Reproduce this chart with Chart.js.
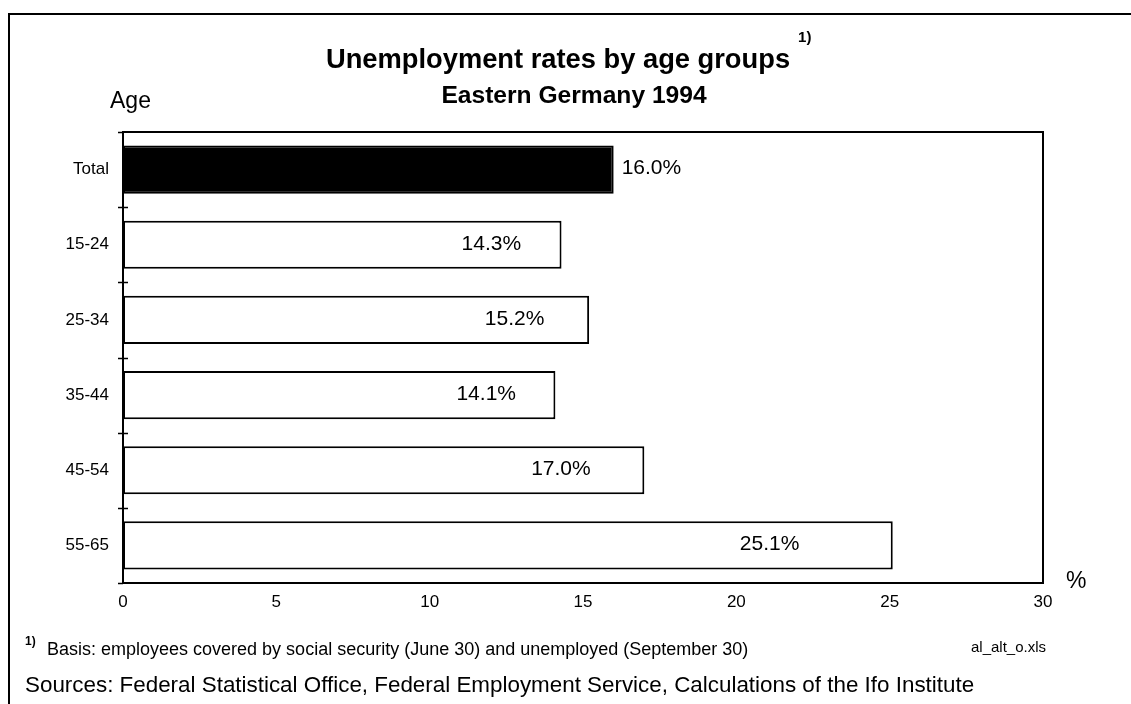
<!DOCTYPE html>
<html>
<head>
<meta charset="utf-8">
<title>Unemployment rates by age groups</title>
<script src="https://cdn.jsdelivr.net/npm/chart.js@4.4.1/dist/chart.umd.min.js"></script>
<style>
    body { margin: 0; background: #fff; }
    #wrap { width: 1131px; height: 704px; }
</style>
</head>
<body>
<div id="wrap"><canvas id="chartCanvas" width="1131" height="704"></canvas></div>
<script>
const ageGroups = ['Total', '15-24', '25-34', '35-44', '45-54', '55-65'];
const rates = [16.0, 14.3, 15.2, 14.1, 17.0, 25.1];
const xTicks = [0, 5, 10, 15, 20, 25, 30];

const FONT = '"Liberation Sans", Arial, Helvetica, sans-serif';

function label(ctx, str, x, y, font, align) {
    ctx.save();
    ctx.font = font;
    ctx.fillStyle = '#000';
    ctx.textAlign = align || 'left';
    ctx.textBaseline = 'alphabetic';
    ctx.fillText(str, x, y);
    const w = ctx.measureText(str).width;
    ctx.restore();
    return w;
}

const decor = {
    id: 'decor',
    beforeDraw(chart) {
        const ctx = chart.ctx;
        ctx.save();
        ctx.fillStyle = '#fff';
        ctx.fillRect(0, 0, chart.width, chart.height);
        // page frame (top and left edges only)
        ctx.strokeStyle = '#000';
        ctx.lineWidth = 2;
        ctx.beginPath();
        ctx.moveTo(chart.width, 14);
        ctx.lineTo(9, 14);
        ctx.lineTo(9, chart.height);
        ctx.stroke();
        ctx.restore();
    },
    afterDraw(chart) {
        const ctx = chart.ctx;
        const area = chart.chartArea;
        const yScale = chart.scales.y;
        const xScale = chart.scales.x;

        // top + right edge of the plot box
        ctx.save();
        ctx.strokeStyle = '#000';
        ctx.lineWidth = 2;
        ctx.beginPath();
        ctx.moveTo(area.left, area.top);
        ctx.lineTo(area.right, area.top);
        ctx.lineTo(area.right, area.bottom);
        ctx.stroke();

        // tick marks crossing the age axis between the groups
        const band = (yScale.bottom - yScale.top) / ageGroups.length;
        ctx.lineWidth = 1.5;
        ctx.beginPath();
        for (let i = 0; i <= ageGroups.length; i++) {
            const y = Math.round(yScale.top + i * band) + 0.5;
            ctx.moveTo(area.left - 5, y);
            ctx.lineTo(area.left + (i === 0 || i === ageGroups.length ? 0 : 5), y);
        }
        ctx.stroke();
        ctx.restore();

        // values on the bars
        const meta = chart.getDatasetMeta(0);
        meta.data.forEach((bar, i) => {
            const txt = rates[i].toFixed(1) + '%';
            const props = bar.getProps(['x', 'y'], true);
            ctx.save();
            ctx.font = '21px ' + FONT;
            ctx.fillStyle = '#000';
            ctx.textBaseline = 'middle';
            if (i === 0) {
                ctx.textAlign = 'left';
                ctx.fillText(txt, props.x + 8, props.y - 1);
            } else {
                ctx.textAlign = 'center';
                ctx.fillText(txt, xScale.getPixelForValue(rates[i] * 0.84), props.y - 1);
            }
            ctx.restore();
        });

        // headings and notes
        const tw = label(ctx, 'Unemployment rates by age groups', 558, 68, 'bold 27.3px ' + FONT, 'center');
        label(ctx, '1)', 558 + tw / 2 + 8, 42, 'bold 15px ' + FONT);
        label(ctx, 'Eastern Germany 1994', 574, 103, 'bold 24.6px ' + FONT, 'center');
        label(ctx, 'Age', 110, 108, '23px ' + FONT);
        label(ctx, '%', 1066, 588, '23px ' + FONT);

        label(ctx, '1)', 25, 645, 'bold 12px ' + FONT);
        label(ctx, 'Basis: employees covered by social security (June 30) and unemployed (September 30)', 47, 655, '18px ' + FONT);
        label(ctx, 'al_alt_o.xls', 1046, 652, '15px ' + FONT, 'right');
        label(ctx, 'Sources: Federal Statistical Office, Federal Employment Service, Calculations of the Ifo Institute', 25, 692, '22.4px ' + FONT);
    }
};

const canvas = document.getElementById('chartCanvas');
new Chart(canvas, {
    type: 'bar',
    data: {
        labels: ageGroups,
        datasets: [{
            label: 'Unemployment rate',
            data: rates,
            backgroundColor: rates.map((v, i) => i === 0 ? '#000' : '#fff'),
            borderColor: '#000',
            borderWidth: 2,
            borderSkipped: false,
            categoryPercentage: 1,
            barPercentage: 0.64
        }]
    },
    options: {
        indexAxis: 'y',
        responsive: false,
        animation: false,
        layout: {
            padding: { top: 132, right: 88, bottom: 81, left: 0 }
        },
        plugins: {
            legend: { display: false },
            tooltip: { enabled: false },
            title: { display: false }
        },
        scales: {
            x: {
                type: 'linear',
                min: 0,
                max: 30,
                afterBuildTicks: (axis) => {
                    axis.ticks = xTicks.map((v) => ({ value: v }));
                },
                afterFit: (scale) => { scale.height = 40; },
                grid: { display: false, drawTicks: false },
                border: { display: true, color: '#000', width: 2 },
                ticks: {
                    color: '#000',
                    padding: 9,
                    maxRotation: 0,
                    font: { family: FONT, size: 17 }
                }
            },
            y: {
                type: 'category',
                afterFit: (scale) => { scale.width = 123; },
                grid: { display: false, drawTicks: false },
                border: { display: true, color: '#000', width: 2 },
                ticks: {
                    color: '#000',
                    padding: 14,
                    font: { family: FONT, size: 17 }
                }
            }
        }
    },
    plugins: [decor]
});
</script>
</body>
</html>
